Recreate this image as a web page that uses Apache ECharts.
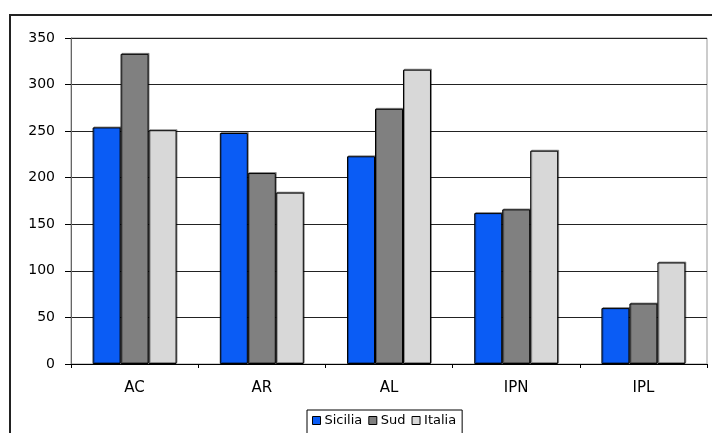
<!DOCTYPE html>
<html><head><meta charset="utf-8">
<script src="https://cdn.jsdelivr.net/npm/echarts@6/dist/echarts.min.js"></script>
<style>html,body{margin:0;padding:0;background:#fff}#c{width:712px;height:433px}</style>
</head><body><div id="c"></div>
<script>
const categories = ['AC', 'AR', 'AL', 'IPN', 'IPL'];
const sicilia = [254, 248, 223, 162, 60];
const sud = [333, 205, 274, 166, 65];
const italia = [251, 184, 316, 229, 109];
const seriesNames = ['Sicilia', 'Sud', 'Italia'];
const colors = ['#0a5cf5', '#808080', '#d8d8d8'];

const chart = echarts.init(document.getElementById('c'), null, {renderer: 'canvas'});
const font = 'DejaVu Sans, sans-serif';
const mk = (name, data, i) => ({
  name, type: 'bar', data, barGap: '0%', barCategoryGap: '34%',
  itemStyle: {color: colors[i], borderColor: '#000', borderWidth: 1,
    shadowColor: 'rgba(0,0,0,0.35)', shadowOffsetX: 1, shadowOffsetY: -1, shadowBlur: 0},
  emphasis: {disabled: true}
});
chart.setOption({
  animation: false,
  backgroundColor: '#fff',
  color: colors,
  graphic: [{type: 'rect', shape: {x: 10, y: 15, width: 720, height: 450},
    style: {fill: 'none', stroke: '#222', lineWidth: 2}, silent: true}],
  grid: {left: 71, right: 5, top: 38, bottom: 69, show: true, borderColor: '#999', borderWidth: 1},
  legend: {
    data: seriesNames, left: 307, top: 410, orient: 'horizontal',
    itemWidth: 8, itemHeight: 8, itemGap: 6, padding: [4, 6, 8, 5],
    borderColor: '#000', borderWidth: 1, backgroundColor: '#fff',
    icon: 'rect',
    itemStyle: {borderColor: '#000', borderWidth: 1},
    textStyle: {fontFamily: font, fontSize: 13, color: '#000', padding: [0, 0, 0, -1]}
  },
  xAxis: {
    type: 'category', data: categories,
    axisLine: {lineStyle: {color: '#000', width: 1}},
    axisTick: {show: true, alignWithLabel: false, length: 4, lineStyle: {color: '#000'}},
    axisLabel: {fontFamily: font, fontSize: 15, color: '#000', margin: 17}
  },
  yAxis: {
    type: 'value', min: 0, max: 350, interval: 50,
    axisLine: {show: true, lineStyle: {color: '#666', width: 1}},
    axisTick: {show: true, length: 6, lineStyle: {color: '#000'}},
    axisLabel: {fontFamily: font, fontSize: 14, color: '#000', margin: 16},
    splitLine: {lineStyle: {color: '#222', width: 1}}
  },
  series: [mk(seriesNames[0], sicilia, 0), mk(seriesNames[1], sud, 1), mk(seriesNames[2], italia, 2)]
});
</script></body></html>
